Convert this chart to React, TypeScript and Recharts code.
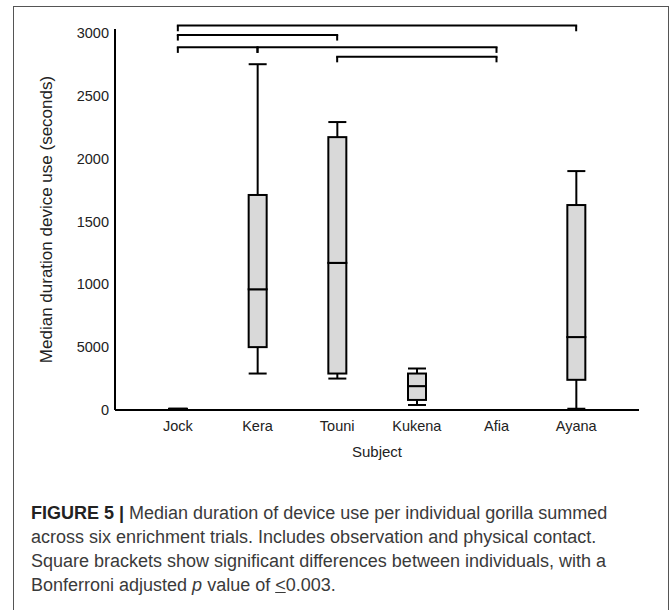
import React from 'react';
import { BarChart, Bar, XAxis, YAxis, ReferenceLine, Label } from 'recharts';

const subjects = ['Jock', 'Kera', 'Touni', 'Kukena', 'Afia', 'Ayana'];
const minValues = [0, 290, 250, 40, 0, 10];
const q1Values = [0, 500, 290, 80, 0, 240];
const medianValues = [5, 960, 1170, 190, 0, 580];
const q3Values = [10, 1710, 2170, 290, 0, 1630];
const maxValues = [10, 2750, 2290, 330, 0, 1900];

const yTicks = [0, 500, 1000, 1500, 2000, 2500, 3000];
const yTickLabels = ['0', '5000', '1000', '1500', '2000', '2500', '3000'];

// significance brackets (Bonferroni p <= 0.003)
const bracketFrom = ['Jock', 'Jock', 'Jock', 'Kera', 'Touni'];
const bracketTo = ['Ayana', 'Touni', 'Kera', 'Afia', 'Afia'];
const bracketLevel = [3057, 2983, 2885, 2885, 2810];
const bracketDrop = 45;

const rows = subjects.map((s, i) => ({
  subject: s,
  base: minValues[i],
  lowWhisker: q1Values[i] - minValues[i],
  lowBox: medianValues[i] - q1Values[i],
  upBox: q3Values[i] - medianValues[i],
  upWhisker: maxValues[i] - q3Values[i],
}));

const INK = '#000';

const BoxPart = (props: any) => {
  const { x, y, width, height } = props;
  return (
    <rect x={x} y={y} width={width} height={Math.max(height, 0)} fill="#d9d9d9" stroke={INK} strokeWidth={2} />
  );
};

const LowerWhisker = (props: any) => {
  const { x, y, width, height } = props;
  const cx = x + width / 2;
  const bottom = y + Math.max(height, 0);
  return (
    <g>
      <line x1={cx} x2={cx} y1={y} y2={bottom} stroke={INK} strokeWidth={2} />
      <line x1={x} x2={x + width} y1={bottom} y2={bottom} stroke={INK} strokeWidth={2} />
    </g>
  );
};

const UpperWhisker = (props: any) => {
  const { x, y, width, height } = props;
  const cx = x + width / 2;
  const bottom = y + Math.max(height, 0);
  return (
    <g>
      <line x1={cx} x2={cx} y1={y} y2={bottom} stroke={INK} strokeWidth={2} />
      <line x1={x} x2={x + width} y1={y} y2={y} stroke={INK} strokeWidth={2} />
    </g>
  );
};

const App: React.FC = () => {
  return (
    <div style={{ position: 'absolute', left: 0, top: 0, width: 672, height: 610, fontFamily: '"Liberation Sans", Arial, sans-serif', background: '#fff' }}>
      <div style={{ position: 'absolute', left: 13, top: 6, width: 656, height: 604, border: '1.5px solid #555', borderBottom: 'none', boxSizing: 'border-box' }} />
      <div style={{ position: 'absolute', left: 0, top: 0 }}>
        <BarChart width={672} height={480} data={rows} barSize={18} margin={{ top: 29, right: 33, left: 0, bottom: 15 }}>
          <XAxis
            dataKey="subject"
            axisLine={{ stroke: INK, strokeWidth: 2 }}
            tickLine={false}
            tickMargin={5}
            tick={{ fontSize: 14.5, fill: '#222' }}
            padding={{ left: 23, right: 23 }}
            height={55}
          >
            <Label value="Subject" position="insideBottom" offset={8} style={{ fontSize: 15, fill: '#222' }} />
          </XAxis>
          <YAxis
            domain={[0, 3030]}
            ticks={yTicks}
            tickFormatter={(v: number) => yTickLabels[yTicks.indexOf(v)] ?? String(v)}
            axisLine={{ stroke: INK, strokeWidth: 2 }}
            tickLine={false}
            tickMargin={0}
            tick={{ fontSize: 14.5, fill: '#222' }}
            width={115}
          >
            <Label
              value="Median duration device use (seconds)"
              angle={-90}
              position="insideLeft"
              offset={46}
              style={{ fontSize: 17, fill: '#222', textAnchor: 'middle' }}
            />
          </YAxis>
          <Bar dataKey="base" stackId="box" fill="none" isAnimationActive={false} />
          <Bar dataKey="lowWhisker" stackId="box" shape={LowerWhisker} isAnimationActive={false} />
          <Bar dataKey="lowBox" stackId="box" shape={BoxPart} isAnimationActive={false} />
          <Bar dataKey="upBox" stackId="box" shape={BoxPart} isAnimationActive={false} />
          <Bar dataKey="upWhisker" stackId="box" shape={UpperWhisker} isAnimationActive={false} />
          {bracketFrom.map((from, i) => {
            const to = bracketTo[i];
            const lv = bracketLevel[i];
            return (
              <React.Fragment key={`br-${i}`}>
                <ReferenceLine
                  segment={[{ x: from, y: lv }, { x: to, y: lv }]}
                  stroke={INK}
                  strokeWidth={2}
                  strokeLinecap="square"
                  ifOverflow="visible"
                />
                <ReferenceLine
                  segment={[{ x: from, y: lv }, { x: from, y: lv - bracketDrop }]}
                  stroke={INK}
                  strokeWidth={2}
                  ifOverflow="visible"
                />
                <ReferenceLine
                  segment={[{ x: to, y: lv }, { x: to, y: lv - bracketDrop }]}
                  stroke={INK}
                  strokeWidth={2}
                  ifOverflow="visible"
                />
              </React.Fragment>
            );
          })}
        </BarChart>
      </div>
      <div style={{ position: 'absolute', left: 31, top: 501, fontSize: 18, lineHeight: '24px', color: '#3a3a3a', whiteSpace: 'nowrap' }}>
        <b style={{ color: '#222' }}>FIGURE 5 |</b> Median duration of device use per individual gorilla summed
        <br />
        across six enrichment trials. Includes observation and physical contact.
        <br />
        Square brackets show significant differences between individuals, with a
        <br />
        Bonferroni adjusted <i>p</i> value of <span style={{ textDecoration: 'underline' }}>&lt;</span>0.003.
      </div>
    </div>
  );
};

export default App;
